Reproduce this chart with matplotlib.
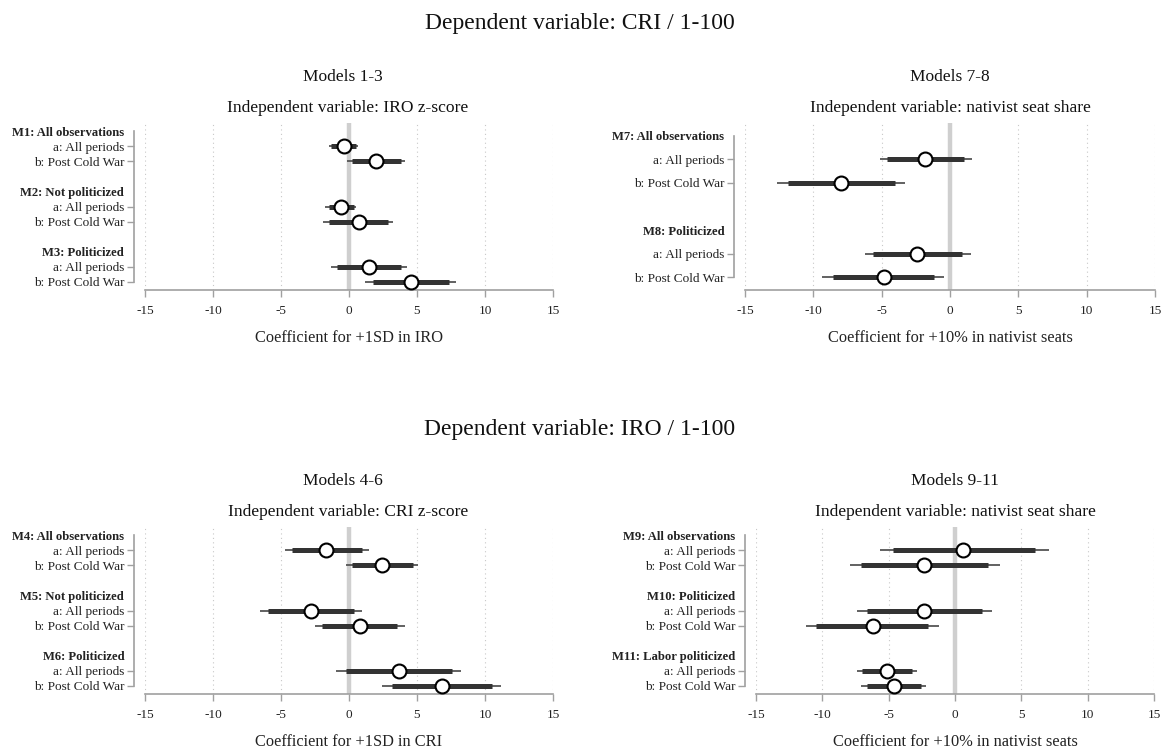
import matplotlib.pyplot as plt

plt.rcParams['font.family'] = ['Liberation Serif', 'DejaVu Serif']

row_labels = ["a: All periods", "b: Post Cold War"]

# Models 1-3 (DV: CRI, IV: IRO z-score)
m13_groups = ["M1: All observations", "M2: Not politicized", "M3: Politicized"]
m13_coef = [-0.4, 1.95, -0.6, 0.7, 1.5, 4.55]
m13_lo90 = [-1.3, 0.2, -1.5, -1.5, -0.85, 1.75]
m13_hi90 = [0.55, 3.8, 0.4, 2.85, 3.85, 7.35]
m13_lo95 = [-1.5, -0.15, -1.75, -1.9, -1.3, 1.15]
m13_hi95 = [0.65, 4.1, 0.5, 3.25, 4.25, 7.9]

# Models 7-8 (DV: CRI, IV: nativist seat share)
m78_groups = ["M7: All observations", "M8: Politicized"]
m78_coef = [-1.8, -7.95, -2.4, -4.85]
m78_lo90 = [-4.6, -11.85, -5.6, -8.55]
m78_hi90 = [1.05, -4.0, 0.9, -1.15]
m78_lo95 = [-5.15, -12.65, -6.25, -9.35]
m78_hi95 = [1.6, -3.3, 1.55, -0.45]

# Models 4-6 (DV: IRO, IV: CRI z-score)
m46_groups = ["M4: All observations", "M5: Not politicized", "M6: Politicized"]
m46_coef = [-1.7, 2.45, -2.8, 0.8, 3.65, 6.85]
m46_lo90 = [-4.2, 0.2, -5.95, -1.95, -0.25, 3.15]
m46_hi90 = [0.95, 4.7, 0.35, 3.55, 7.55, 10.55]
m46_lo95 = [-4.7, -0.25, -6.55, -2.5, -0.95, 2.45]
m46_hi95 = [1.45, 5.1, 0.95, 4.1, 8.25, 11.2]

# Models 9-11 (DV: IRO, IV: nativist seat share)
m911_groups = ["M9: All observations", "M10: Politicized", "M11: Labor politicized"]
m911_coef = [0.6, -2.3, -2.3, -6.2, -5.15, -4.6]
m911_lo90 = [-4.65, -7.05, -6.65, -10.45, -7.0, -6.65]
m911_hi90 = [6.0, 2.45, 2.0, -2.0, -3.25, -2.55]
m911_lo95 = [-5.65, -7.95, -7.4, -11.25, -7.4, -7.05]
m911_hi95 = [7.05, 3.4, 2.8, -1.2, -2.85, -2.15]

xticks = [-15, -10, -5, 0, 5, 10, 15]

W, H = 1161, 748
fig = plt.figure(figsize=(W / 100, H / 100), dpi=100)


def px_axes(left, right, top, bottom):
    return fig.add_axes([left / W, 1 - bottom / H, (right - left) / W, (bottom - top) / H])


def coefplot(ax, groups, coef, lo90, hi90, lo95, hi95, xlabel):
    # row layout: header, a, b, blank, header, a, b, ...
    ypos, labels, is_header = [], [], []
    data_rows = []
    r = 0
    for g in groups:
        ypos.append(r); labels.append(g); is_header.append(True)
        r += 1
        for lab in row_labels:
            ypos.append(r); labels.append(lab); is_header.append(False)
            data_rows.append(r)
            r += 1
        r += 1
    n = r - 1

    # spine placement first: set_position resets the ticks
    for s in ['top', 'right']:
        ax.spines[s].set_visible(False)
    ax.spines['left'].set_position(('outward', 8))
    ax.spines['left'].set_bounds(0, n - 1)
    for s in ['left', 'bottom']:
        ax.spines[s].set_color('#a0a0a0')
        ax.spines[s].set_linewidth(1.2)

    ax.axvline(0, color='#cfcfcf', lw=3.2, zorder=1)
    for xt in xticks:
        if xt != 0:
            ax.axvline(xt, color='#c8c8c8', lw=0.8, ls=(0, (1, 3)), zorder=0)

    ax.hlines(data_rows, lo95, hi95, color='#555555', lw=1.3, zorder=2)
    ax.hlines(data_rows, lo90, hi90, color='#333333', lw=3.6, zorder=3)
    ax.plot(coef, data_rows, 'o', ms=10, mfc='white', mec='black', mew=1.5, zorder=4)

    ax.set_xlim(-15, 15)
    ax.set_ylim(n - 1 + 0.55, -0.55)
    ax.set_xticks(xticks)
    ax.set_xticklabels([str(t) for t in xticks])
    ax.set_yticks(ypos)
    ax.set_yticklabels(labels)
    ax.tick_params(axis='both', colors='#a0a0a0', labelcolor='#222222', labelsize=9.5, length=5, width=1.0)
    ax.tick_params(axis='y', pad=2)
    ax.tick_params(axis='x', pad=6)
    for tk, hd in zip(ax.yaxis.get_major_ticks(), is_header):
        if hd:
            tk.tick1line.set_visible(False)
            tk.label1.set_fontweight('bold')
            tk.label1.set_fontsize(9.1)
    ax.set_xlabel(xlabel, fontsize=11.8, color='#222222', labelpad=9)
    ax.patch.set_alpha(0)


ax1 = px_axes(145, 553, 123, 290)
coefplot(ax1, m13_groups, m13_coef, m13_lo90, m13_hi90, m13_lo95, m13_hi95,
         "Coefficient for +1SD in IRO")
ax2 = px_axes(745, 1155, 123, 290)
coefplot(ax2, m78_groups, m78_coef, m78_lo90, m78_hi90, m78_lo95, m78_hi95,
         "Coefficient for +10% in nativist seats")
ax3 = px_axes(145, 553, 527, 694)
coefplot(ax3, m46_groups, m46_coef, m46_lo90, m46_hi90, m46_lo95, m46_hi95,
         "Coefficient for +1SD in CRI")
ax4 = px_axes(756, 1154, 527, 694)
coefplot(ax4, m911_groups, m911_coef, m911_lo90, m911_hi90, m911_lo95, m911_hi95,
         "Coefficient for +10% in nativist seats")


def ftext(x, y, s, size):
    fig.text(x / W, 1 - y / H, s, ha='center', va='center', fontsize=size, color='#111111')


ftext(580, 24, "Dependent variable: CRI / 1-100", 17)
ftext(343, 77, "Models 1-3", 12.5)
ftext(348, 108, "Independent variable: IRO z-score", 12.6)
ftext(950, 77, "Models 7-8", 12.5)
ftext(950, 108, "Independent variable: nativist seat share", 12.6)

ftext(580, 430, "Dependent variable: IRO / 1-100", 17)
ftext(343, 481, "Models 4-6", 12.5)
ftext(348, 512, "Independent variable: CRI z-score", 12.6)
ftext(955, 481, "Models 9-11", 12.5)
ftext(955, 512, "Independent variable: nativist seat share", 12.6)

fig.savefig('out.png', dpi=100)
